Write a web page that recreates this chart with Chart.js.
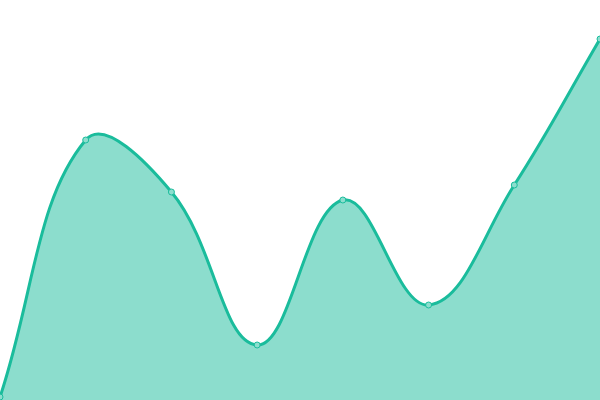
<html>
<head>
<script src="https://cdn.jsdelivr.net/npm/chart.js"></script>
<style>
  html, body { margin: 0; padding: 0; background: #fff; }
  .wrap { width: 600px; height: 400px; }
</style>
</head>
<body>
<div class="wrap"><canvas id="chart-1"></canvas></div>
<script>
  const labels = ["1", "2", "3", "4", "5", "6", "7", "8"];
  const values = [3, 260, 208, 55, 200, 95, 215, 361];

  const chart = new Chart(document.getElementById('chart-1'), {
    type: 'line',
    data: {
      labels: labels,
      datasets: [{
        data: values,
        fill: true,
        tension: 0.4,
        borderColor: '#1abc9c',
        backgroundColor: 'rgba(26,188,156,0.5)',
        borderWidth: 3,
        pointRadius: 3,
        pointBorderWidth: 1,
        pointBackgroundColor: 'rgba(140,222,206,1)',
        pointBorderColor: '#1abc9c'
      }]
    },
    options: {
      responsive: true,
      maintainAspectRatio: false,
      animation: false,
      layout: { padding: 0, autoPadding: false },
      plugins: { legend: { display: false }, tooltip: { enabled: false } },
      scales: {
        x: { display: false, offset: false },
        y: { display: false, min: 0, max: 400 }
      }
    }
  });
</script>
</body>
</html>
